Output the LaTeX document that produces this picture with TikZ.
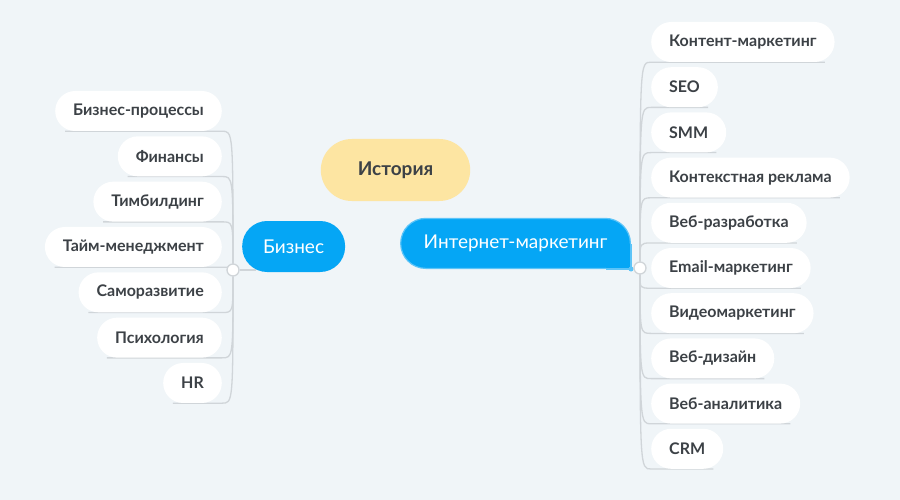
\documentclass[tikz,border=0pt]{standalone}
\usepackage{fontspec}
\setmainfont{Lato}
\usetikzlibrary{positioning}
\definecolor{bgcol}{HTML}{F0F5F8}
\definecolor{txtcol}{HTML}{3C4146}
\definecolor{linecol}{HTML}{D0D5D9}
\definecolor{bluecol}{HTML}{05A6F5}
\definecolor{rimcol}{HTML}{5CC4F8}
\definecolor{yelcol}{HTML}{FDE5A2}
\pgfdeclarelayer{back}
\pgfdeclarelayer{lines}
\pgfsetlayers{back,lines,main}

\begin{document}
\begin{tikzpicture}[x=1pt,y=-1pt,
    leaf/.style={fill=white,text=txtcol,font=\bfseries\fontsize{16}{19}\selectfont,
      rounded corners=20pt,minimum height=40pt,inner xsep=18pt,inner ysep=0pt},
    topic/.style={fill=bluecol,text=white,font=\fontsize{19}{22}\selectfont,
      rounded corners=25pt,inner ysep=0pt},
    link/.style={draw=linecol,line width=1.3pt},
    knob/.style={circle,draw=linecol,fill=white,line width=1.3pt,inner sep=0pt,minimum size=12pt}]
    \useasboundingbox (0,0) rectangle (900,500);
    \begin{pgfonlayer}{back}
    \fill[bgcol] (0,0) rectangle (900,500);
    \end{pgfonlayer}

    \node[fill=yelcol,text=txtcol,font=\bfseries\fontsize{19}{22}\selectfont,rounded corners=31pt,
      minimum height=62pt,inner xsep=37pt,inner ysep=0pt] (hist) at (395.5,170) {История};%中心
    \node[topic,minimum height=51pt,inner xsep=21pt,anchor=west] (biz) at (242,246.5) {Бизнес};
    \node[topic,draw=rimcol,line width=1.2pt,minimum height=50pt,inner xsep=23pt,anchor=south east] (im) at (631,269) {Интернет-маркетинг};
    \fill[bluecol] (im.south east) rectangle ([xshift=-25pt,yshift=25pt]im.south east);%角
    \draw[rimcol,line width=1.2pt] ([yshift=25pt]im.south east) -- (im.south east) -- ([xshift=-25pt]im.south east);
    \fill[rimcol] (im.south east) circle (2.5);

    \node[knob] (kl) at (233,270) {};
    \node[knob] (kr) at (640,268) {};

    \foreach \t [count=\i] in {Бизнес-процессы,Финансы,Тимбилдинг,Тайм-менеджмент,Саморазвитие,Психология,HR}
        \node[leaf,anchor=east] (l\i) at (222,{111+45.33*(\i-1)}) {\t};
    \foreach \t [count=\i] in {Контент-маркетинг,SEO,SMM,Контекстная реклама,Веб-разработка,Email-маркетинг,Видеомаркетинг,Веб-дизайн,Веб-аналитика,CRM}
        \node[leaf,anchor=west] (r\i) at (651,{42+45.2*(\i-1)}) {\t};

    \begin{pgfonlayer}{lines}
    \foreach \i in {1,...,7}
        \draw[link] (kl) .. controls (kl |- l\i.south east) .. (l\i.south east) -- ([xshift=10pt]l\i.south west);
    \foreach \i in {1,...,10}
        \draw[link] (kr) .. controls (kr |- r\i.south west) .. (r\i.south west) -- ([xshift=-10pt]r\i.south east);
    \draw[link] (kl) -- ([xshift=14pt]kl -| biz.west);
    \draw[link] (im.south east) -- (kr);
    \end{pgfonlayer}
\end{tikzpicture}
\end{document}
